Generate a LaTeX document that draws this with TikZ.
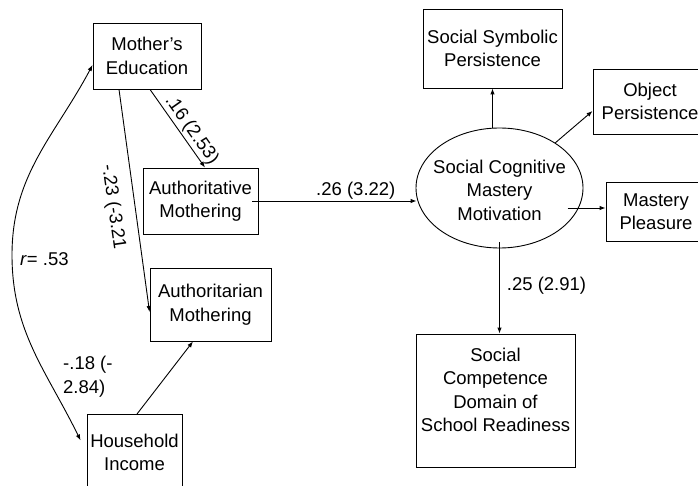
\documentclass[tikz,border=0pt]{standalone}
\usepackage{fontspec}
\setmainfont{Liberation Sans}
\usetikzlibrary{shapes.geometric,arrows.meta}
\begin{document}
\begin{tikzpicture}[x=1pt,y=-1pt,
  every node/.style={font=\fontsize{18.5}{23.5}\selectfont},
  box/.style={draw=black,line width=0.9pt,align=center,inner sep=0pt},
  txt/.style={align=center,inner sep=0pt},
  conn/.style={line width=0.9pt,-{Latex[length=6pt,width=4.5pt]}},
  lbl/.style={inner sep=1.5pt}]
\useasboundingbox (0,0) rectangle (698,486);
\clip (0,0) rectangle (698,486);

% predictors and mediators
\node[box,minimum width=108,minimum height=66] (moth) at (147,56) {Mother’s\\Education};
\node[box,minimum width=115,minimum height=66] (authv) at (200.5,201) {Authoritative\\Mothering};
\node[box,minimum width=121,minimum height=73] (authr) at (210.5,304.5) {Authoritarian\\Mothering};
\node[box,minimum width=95,minimum height=92,anchor=north] (house) at (134.5,414) {};
\node[txt] (housetxt) at (134.5,452.5) {Household\\Income};

% latent factor and its indicators
\node[draw=black,line width=0.9pt,ellipse,minimum width=167,minimum height=120,inner sep=0pt] (emm) at (499.5,188) {};
\node[txt] (emmtxt) at (499.5,190) {Social Cognitive\\Mastery\\Motivation};
\node[box,minimum width=139,minimum height=79] (ssp) at (492.5,48.5) {Social Symbolic\\Persistence};
\node[box,minimum width=114,minimum height=65] (obj) at (650,101.5) {Object\\Persistence};
\node[box,minimum width=100,minimum height=59] (mp) at (656,211.5) {Mastery\\Pleasure};
\node[box,minimum width=159,minimum height=133] (sc) at (495.5,400.5) {};
\node[txt] (sctxt) at (495.5,390) {Social\\Competence\\Domain of\\School Readiness};

% paths
\draw[conn] ([xshift=3pt]moth.south) -- ([xshift=4.5pt]authv.north)
  node[pos=0.6,sloped,above,lbl] {.16 (2.53)};
\draw[conn] ([xshift=-28pt]moth.south) -- ([yshift=-7.5pt]authr.west);
\node[txt,rotate=-82] (l23) at (113,207) {-.23 (-3.21};
\draw[conn] ([xshift=2.5pt]house.north) -- ([xshift=-17.5pt]authr.south);
\node[txt,align=left,anchor=west] (l18) at (63,376.5) {-.18 (-\\2.84)};

% correlation between the two background variables
\coordinate (rmid) at (12,255);
\draw[line width=0.9pt,{Latex[length=6pt,width=4.5pt]}-{Latex[length=6pt,width=4.5pt]}]
  ([yshift=-9pt]moth.west) to[out=242,in=90] (rmid) to[out=270,in=116] ([xshift=-6pt,yshift=20pt]house.west);
\node[txt,anchor=west] (lr) at (20,259) {\textit{r}= .53};

\coordinate (e26) at (emm.west |- authv.east);
\draw[conn] ([xshift=-6pt]authv.east) -- ([xshift=1pt]e26)
  node[pos=0.63,above,lbl] {.26 (3.22)};
\draw[conn] (ssp.south |- emm.north) -- (ssp.south);
\draw[conn] (emm.39) -- ([yshift=-9.5pt]obj.west);
\draw[conn] ([xshift=-38pt,yshift=3.5pt]mp.west) -- ([yshift=3.5pt]mp.west);
\draw[conn] ([yshift=6pt]emm.south) -- (emm.south |- sc.north)
  node[pos=0.48,right=7pt,inner sep=0pt] {.25 (2.91)};
\end{tikzpicture}
\end{document}
